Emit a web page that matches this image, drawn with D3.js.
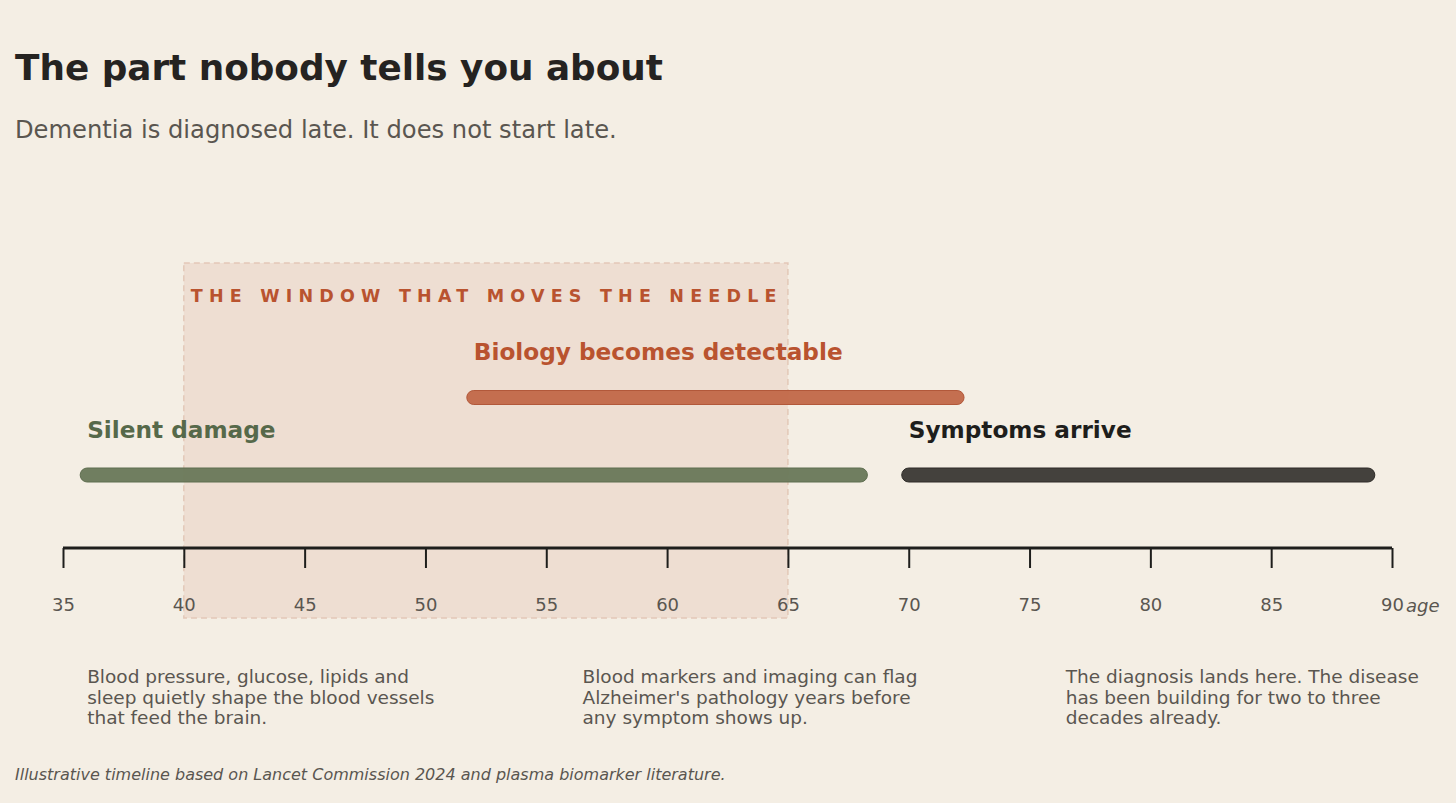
<!DOCTYPE html>
<html>
<head>
<meta charset="utf-8">
<script src="https://cdn.jsdelivr.net/npm/d3@7"></script>
<style>
  html, body { margin: 0; padding: 0; background: #f4eee4; }
  svg { display: block; font-family: "DejaVu Sans", sans-serif; }
</style>
</head>
<body>
<svg id="chart"></svg>
<script>
const width = 1456;
const height = 803;

// Phases on the age timeline
const phaseNames = ["Silent damage", "Biology becomes detectable", "Symptoms arrive"];
const phaseStart = [36, 52, 70];
const phaseEnd = [68, 72, 89];
const phaseRow = [0, 1, 0];
const phaseFill = ["#6b7a5b", "#c26a4a", "#3e3b37"];
const phaseEdge = ["#5f6e50", "#b2583a", "#2e2b28"];
const phaseText = ["#56694a", "#b9532f", "#1e1e1c"];

// Highlighted window
const windowRange = [40, 65];
const windowLabel = "THE WINDOW THAT MOVES THE NEEDLE";

// Axis ticks
const ageTicks = [35, 40, 45, 50, 55, 60, 65, 70, 75, 80, 85, 90];

// Notes below the axis
const noteAges = [36, 56.5, 76.5];
const noteLines = [
  ["Blood pressure, glucose, lipids and", "sleep quietly shape the blood vessels", "that feed the brain."],
  ["Blood markers and imaging can flag", "Alzheimer's pathology years before", "any symptom shows up."],
  ["The diagnosis lands here. The disease", "has been building for two to three", "decades already."]
];

const svg = d3.select("#chart")
    .attr("width", width)
    .attr("height", height);

svg.append("rect")
    .attr("width", width)
    .attr("height", height)
    .attr("fill", "#f4eee4");

const x = d3.scaleLinear()
    .domain([35, 90])
    .range([63, 1392]);

// rows: 0 = lower bars, 1 = upper bar
const rowY = d3.scaleLinear().domain([0, 1]).range([475, 397.5]);
const axisY = 548;

// Title block
svg.append("text")
    .attr("x", 15).attr("y", 80)
    .attr("font-size", "35.8px")
    .attr("font-weight", "bold")
    .attr("fill", "#252321")
    .text("The part nobody tells you about");

svg.append("text")
    .attr("x", 15).attr("y", 138)
    .attr("font-size", "24.2px")
    .attr("fill", "#5a5650")
    .text("Dementia is diagnosed late. It does not start late.");

// Window shading
svg.append("rect")
    .attr("x", x(windowRange[0]))
    .attr("y", 263)
    .attr("width", x(windowRange[1]) - x(windowRange[0]))
    .attr("height", 355)
    .attr("fill", "#c2643c")
    .attr("fill-opacity", 0.11)
    .attr("stroke", "#e3c8b8")
    .attr("stroke-width", 1.5)
    .attr("stroke-dasharray", "6,4");

svg.append("text")
    .attr("x", x(windowRange[0]) + 7)
    .attr("y", 302)
    .attr("font-size", "17.5px")
    .attr("font-weight", "bold")
    .attr("letter-spacing", "6.2px")
    .attr("fill", "#b9532f")
    .text(windowLabel);

// Axis
const axisG = svg.append("g")
    .attr("transform", `translate(0,${axisY})`)
    .call(d3.axisBottom(x).tickValues(ageTicks).tickSize(20).tickPadding(30).tickFormat(d3.format("d")));

axisG.select(".domain")
    .attr("d", `M${x(35)},0H${x(90)}`)
    .attr("stroke", "#1e1e1c")
    .attr("stroke-width", 3);
axisG.selectAll(".tick line")
    .attr("stroke", "#1e1e1c")
    .attr("stroke-width", 2);
axisG.selectAll(".tick text")
    .attr("font-family", "DejaVu Sans")
    .attr("font-size", "18px")
    .attr("fill", "#5a5650");

svg.append("text")
    .attr("x", x(90) + 14)
    .attr("y", 612)
    .attr("font-size", "18px")
    .attr("font-style", "italic")
    .attr("fill", "#5a5650")
    .text("age");

// Phase bars
const barH = 14;
const phases = phaseNames.map((name, i) => ({
  name, start: phaseStart[i], end: phaseEnd[i], row: phaseRow[i],
  fill: phaseFill[i], edge: phaseEdge[i], textColor: phaseText[i]
}));

svg.selectAll(".phase")
  .data(phases)
  .enter()
  .append("rect")
    .attr("class", "phase")
    .attr("x", d => x(d.start) - barH / 2)
    .attr("y", d => rowY(d.row) - barH / 2)
    .attr("width", d => x(d.end) - x(d.start) + barH)
    .attr("height", barH)
    .attr("rx", barH / 2)
    .attr("fill", d => d.fill)
    .attr("fill-opacity", 0.97)
    .attr("stroke", d => d.edge)
    .attr("stroke-width", 1);

svg.selectAll(".phase-label")
  .data(phases)
  .enter()
  .append("text")
    .attr("class", "phase-label")
    .attr("x", d => x(d.start))
    .attr("y", d => rowY(d.row) - 37.5)
    .attr("font-size", "23.2px")
    .attr("font-weight", "bold")
    .attr("fill", d => d.textColor)
    .text(d => d.name);

// Notes
noteLines.forEach((lines, i) => {
  const t = svg.append("text")
      .attr("x", x(noteAges[i]))
      .attr("y", 683)
      .attr("font-size", "18.5px")
      .attr("fill", "#5a5650");
  lines.forEach((line, j) => {
    t.append("tspan")
      .attr("x", x(noteAges[i]))
      .attr("dy", j === 0 ? 0 : 20.5)
      .text(line);
  });
});

// Footer
svg.append("text")
    .attr("x", 15).attr("y", 780)
    .attr("font-size", "16px")
    .attr("font-style", "italic")
    .attr("fill", "#5a5650")
    .text("Illustrative timeline based on Lancet Commission 2024 and plasma biomarker literature.");
</script>
</body>
</html>
